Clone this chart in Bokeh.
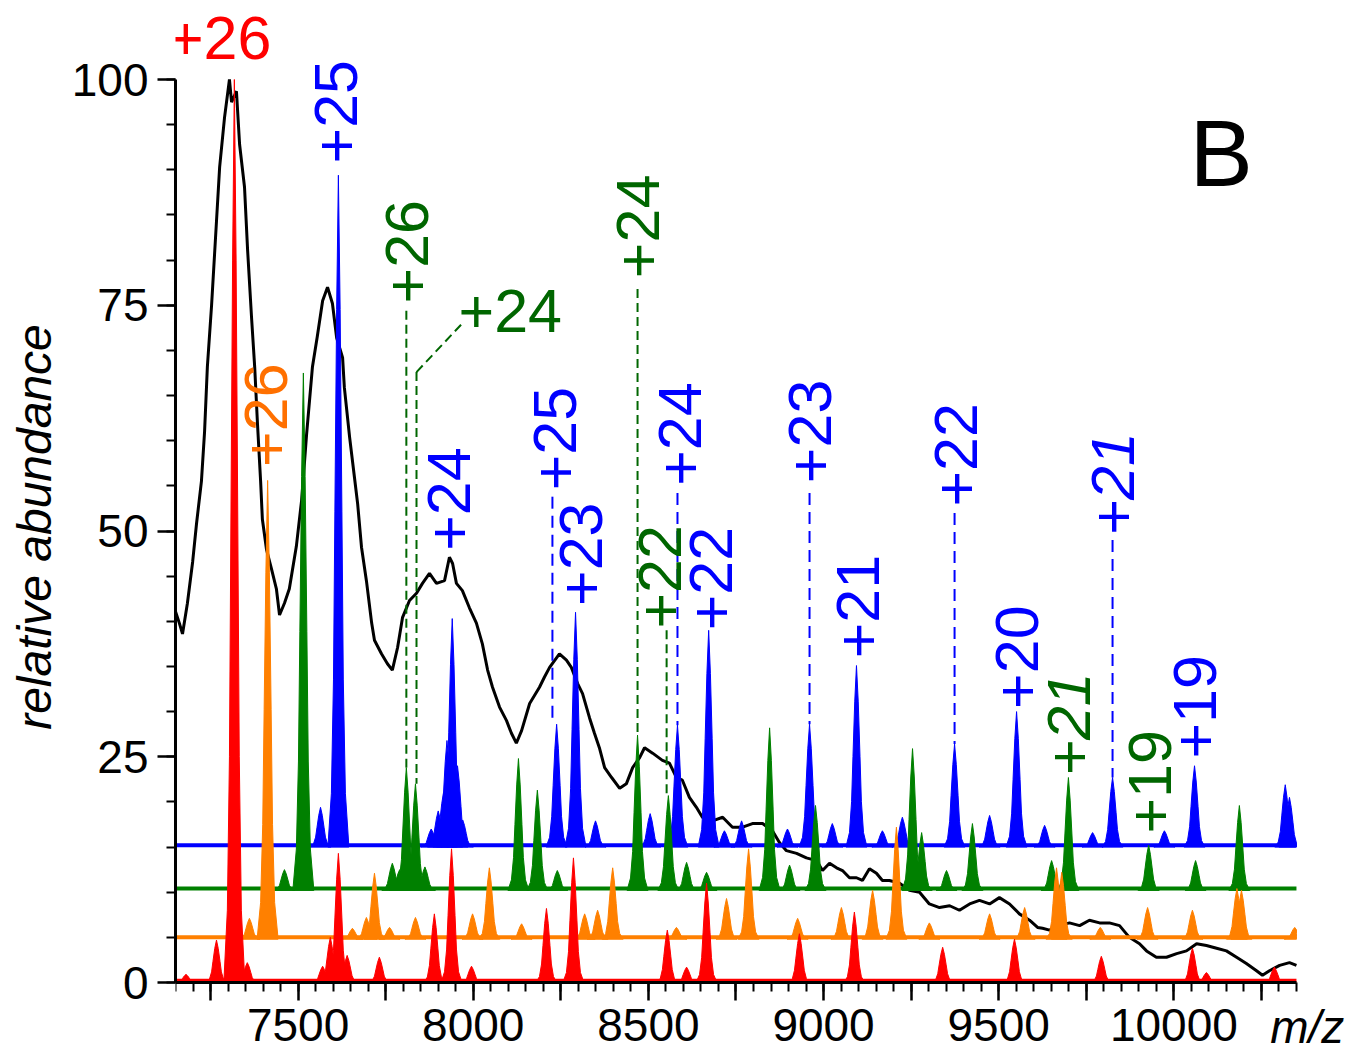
from math import pi
from bokeh.plotting import figure
from bokeh.models import Range1d, FixedTicker, Label
from bokeh.embed import file_html
from bokeh.resources import INLINE

FONT = "Liberation Sans"

# ---------------- data ----------------
# raw (black) spectrum: m/z and relative abundance
black_mz = [7150, 7161, 7170, 7184, 7199, 7210, 7224, 7233, 7241, 7253, 7267, 7276, 7290, 7304,
            7310, 7324, 7333, 7347, 7356, 7367, 7376, 7384, 7393, 7398, 7410, 7424, 7438, 7447,
            7461, 7475, 7495, 7510, 7524, 7541, 7555, 7570, 7584, 7598, 7610, 7627, 7632, 7647,
            7661, 7670, 7681, 7695, 7710, 7718, 7738, 7755, 7769, 7784, 7798, 7818, 7838, 7855,
            7875, 7895, 7918, 7932, 7941, 7952, 7969, 7989, 8009, 8026, 8041, 8055, 8075, 8095,
            8109, 8123, 8138, 8161, 8189, 8203, 8218, 8246, 8266, 8280, 8298, 8312, 8332, 8346,
            8360, 8375, 8395, 8418, 8437, 8455, 8475, 8489, 8512, 8540, 8560, 8580, 8597, 8617,
            8637, 8654, 8683, 8712, 8740, 8769, 8797, 8826, 8854, 8874, 8894, 8923, 8951, 8980,
            8997, 9017, 9037, 9054, 9074, 9094, 9111, 9131, 9151, 9168, 9188, 9217, 9245, 9274,
            9302, 9331, 9360, 9388, 9417, 9445, 9474, 9502, 9531, 9559, 9588, 9611, 9625, 9645,
            9674, 9702, 9731, 9759, 9788, 9816, 9845, 9873, 9902, 9922, 9950, 9979, 10008, 10036,
            10065, 10093, 10122, 10150, 10179, 10207, 10236, 10253, 10273, 10302, 10330, 10350]
black_abund = [41.1, 39.8, 38.6, 42.0, 46.6, 50.8, 55.5, 61.0, 68.2, 75.0, 84.3, 90.3, 95.8, 100.0,
               97.5, 98.7, 92.8, 88.1, 81.0, 73.7, 68.2, 61.9, 55.5, 51.3, 47.9, 45.8, 43.6, 40.7,
               42.0, 43.6, 48.3, 53.4, 60.6, 68.2, 71.6, 75.5, 77.0, 75.2, 71.4, 69.2, 65.9, 60.4,
               55.9, 53.0, 48.2, 44.5, 39.8, 37.9, 36.4, 35.3, 34.6, 37.1, 40.4, 42.3, 43.1, 44.2,
               45.3, 44.2, 44.5, 47.1, 46.4, 44.2, 43.4, 41.5, 39.8, 37.5, 34.6, 32.7, 30.5, 29.0,
               27.6, 26.5, 27.9, 30.9, 32.7, 33.8, 34.9, 36.4, 35.7, 34.9, 33.1, 32.0, 29.3, 27.6,
               26.0, 23.8, 22.7, 21.5, 22.0, 23.8, 24.9, 26.0, 25.4, 24.6, 24.3, 22.7, 22.4, 20.5,
               19.4, 18.3, 17.9, 18.3, 17.2, 17.2, 17.6, 17.6, 16.8, 15.5, 14.6, 14.3, 13.8, 13.5,
               12.4, 13.2, 12.7, 12.4, 11.6, 11.6, 11.3, 12.6, 12.1, 11.3, 11.3, 11.0, 10.2, 10.0,
               8.7, 8.3, 8.5, 8.0, 8.7, 9.1, 8.7, 9.4, 8.7, 7.6, 6.9, 6.1, 6.0, 5.8,
               6.3, 6.6, 6.3, 6.9, 6.6, 6.6, 6.3, 5.0, 4.3, 3.5, 2.8, 2.8, 3.2, 3.5,
               4.3, 4.1, 3.8, 3.5, 2.8, 2.1, 1.3, 0.8, 1.3, 1.9, 2.2, 1.9]

# offset traces: baseline level, peak positions (m/z) and peak-top levels
red_base = 0.0
red_mz = [7180, 7267, 7318, 7355, 7570, 7592, 7615, 7640, 7732, 7889, 7938, 7995, 8209, 8286,
          8554, 8609, 8666, 8931, 9088, 9340, 9545, 9793, 10053, 10093, 10287]
red_top = [0.9, 4.7, 100.0, 2.2, 1.8, 5.0, 14.3, 3.0, 2.8, 7.6, 14.8, 1.8, 8.2, 13.8,
           5.8, 1.7, 11.0, 5.4, 7.8, 3.9, 4.8, 2.9, 3.8, 1.1, 1.7]

orange_base = 4.8
orange_mz = [7361, 7413, 7655, 7695, 7718, 7761, 7835, 7998, 8046, 8138, 8318, 8355, 8398, 8580,
             8723, 8786, 8926, 9051, 9140, 9208, 9302, 9474, 9574, 9665, 9680, 9790, 9925, 10053,
             10180, 10193, 10345]
orange_top = [7.1, 55.6, 6.0, 7.2, 12.1, 6.1, 7.2, 7.6, 12.7, 6.5, 7.6, 8.0, 12.7, 6.1,
              9.3, 14.8, 7.1, 8.3, 10.2, 17.2, 6.6, 7.6, 8.3, 12.7, 12.2, 6.1, 8.3, 8.0,
              10.4, 10.2, 6.1]

green_base = 10.2
green_mz = [7461, 7515, 7769, 7790, 7809, 7835, 7862, 8129, 8183, 8240, 8469, 8557, 8609, 8666,
            8846, 8903, 8977, 9254, 9280, 9351, 9425, 9651, 9699, 9928, 10062, 10187]
green_top = [12.5, 67.5, 13.2, 12.5, 23.8, 22.0, 12.8, 24.8, 21.3, 12.4, 27.4, 20.7, 13.3, 12.2,
             28.2, 13.0, 19.6, 25.9, 16.6, 12.4, 17.6, 13.5, 22.7, 15.2, 13.5, 19.6]

blue_base = 15.0
blue_mz = [7564, 7615, 7880, 7900, 7915, 7925, 7940, 7955, 7970, 8238, 8292, 8349, 8505, 8583,
           8672, 8717, 8766, 8897, 8960, 9025, 9094, 9168, 9225, 9374, 9474, 9551, 9631, 9768,
           9825, 9973, 10059, 10318, 10330]
blue_top = [19.4, 89.4, 17.0, 19.0, 21.0, 26.8, 40.3, 24.0, 18.0, 28.6, 41.0, 17.9, 18.7, 28.5,
            39.0, 16.8, 17.9, 17.0, 28.6, 17.6, 35.1, 16.8, 18.3, 26.4, 18.5, 30.0, 17.4, 16.6,
            22.7, 16.8, 24.0, 21.9, 20.5]

# charge-state annotations (rotated ones start at lab_y, horizontal ones are centred on it)
lab_text = ["+26", "+25", "+26", "+26", "+24", "+24", "+25", "+23", "+24", "+22",
            "+24", "+22", "+23", "+21", "+22", "+20", "+21", "+21", "+19", "+19"]
lab_mz = [7276, 7607, 7408, 7812, 7958, 7932, 8232, 8309, 8469, 8532,
          8589, 8680, 8960, 9097, 9377, 9551, 9702, 9825, 9931, 10059]
lab_y = [104.6, 90.7, 57.1, 75.2, 74.4, 47.8, 54.5, 41.7, 78.0, 39.2,
         55.0, 39.0, 55.3, 35.9, 52.7, 30.3, 22.9, 49.5, 16.5, 24.8]
lab_series = ["red", "blue", "orange", "green", "green", "blue", "blue", "blue", "green", "green",
              "blue", "blue", "blue", "blue", "blue", "blue", "green", "blue", "green", "blue"]
lab_vertical = [False, True, True, True, False, True, True, True, True, True,
                True, True, True, True, True, True, True, True, True, True]
lab_italic = [False] * 16 + [True, True, False, False]

# leader lines from labels to peaks
lead_mz = [7809, 7838, 8226, 8469, 8552, 8583, 8960, 9374, 9825]
lead_top = [74.4, 67.6, 53.8, 76.8, 39.0, 54.2, 54.2, 52.0, 49.0]
lead_bottom = [23.8, 22.0, 28.6, 27.4, 20.7, 28.5, 28.6, 26.4, 22.7]
lead_series = ["green", "green", "blue", "green", "green", "blue", "blue", "blue", "blue"]
diag_mz = [7838, 7969]
diag_y = [67.6, 73.0]

x_major = [7250, 7500, 7750, 8000, 8250, 8500, 8750, 9000, 9250, 9500, 9750, 10000, 10250]
x_tick_labels = ["", "7500", "", "8000", "", "8500", "", "9000", "", "9500", "", "10000", ""]
x_minor = list(range(7150, 10351, 50))
y_major = [0, 25, 50, 75, 100]
y_minor = list(range(0, 101, 5))

# ---------------- styles / layout ----------------
FILL = {"red": "#FF0000", "orange": "#FF8000", "green": "#008000", "blue": "#0000FF"}
TEXTC = {"red": "#FF0000", "orange": "#FF7000", "green": "#006600", "blue": "#0000FF"}
DASH = {"green": "9 5", "blue": "12 7"}
HW = [30, 20, 14, 10, 5, 0]            # peak profile half widths (m/z)
FR = [0, 0.08, 0.25, 0.5, 0.8, 1.0]    # fraction of peak height at those widths
X_END = 10350

W, H = 1352, 1053
LEFT = 175
PX_PER_MZ = 0.3503
PX_PER_UNIT = 9.03
Y100_PX = 79
x_hi = 7150 + (W - LEFT) / PX_PER_MZ
y_hi = 100 + Y100_PX / PX_PER_UNIT
y_lo = y_hi - H / PX_PER_UNIT


def peak_polys(mzs, tops, base):
    xs, ys = [], []
    for c, t in zip(mzs, tops):
        d = t - base
        px = [c - w for w in HW] + [c + w for w in reversed(HW[:-1])]
        xs.append([min(v, X_END) for v in px])
        ys.append([base + f * d for f in FR] + [base + f * d for f in reversed(FR[:-1])])
    return xs, ys


p = figure(width=W, height=H, output_backend="svg", toolbar_location=None,
           x_range=Range1d(7150, x_hi), y_range=Range1d(y_lo, y_hi),
           min_border_left=LEFT, min_border_right=0, min_border_top=0, min_border_bottom=0)
p.outline_line_color = None
p.grid.visible = False
p.background_fill_color = "white"
p.border_fill_color = "white"

# raw spectrum underneath
p.line(black_mz, black_abund, line_color="black", line_width=3)

# offset traces (blue at the back, red in front)
for name, mzs, tops, base in [("blue", blue_mz, blue_top, blue_base),
                              ("green", green_mz, green_top, green_base),
                              ("orange", orange_mz, orange_top, orange_base),
                              ("red", red_mz, red_top, red_base)]:
    p.line([7150, X_END], [base + 0.2, base + 0.2], line_color=FILL[name], line_width=4)
    xs, ys = peak_polys(mzs, tops, base)
    p.patches(xs, ys, fill_color=FILL[name], line_color=FILL[name], line_width=1)

# leader lines
for m, y0, y1, s in zip(lead_mz, lead_top, lead_bottom, lead_series):
    p.line([m, m], [y0, y1], line_color=TEXTC[s], line_width=2, line_dash=DASH[s])
p.line(diag_mz, diag_y, line_color=TEXTC["green"], line_width=2, line_dash=DASH["green"])

# labels
for t, m, y, s, vert, ital in zip(lab_text, lab_mz, lab_y, lab_series, lab_vertical, lab_italic):
    if vert:
        lab = Label(x=m, y=y, text=t, angle=pi / 2, text_align="left", text_baseline="middle")
    else:
        align = "center" if s == "red" else "left"
        lab = Label(x=m, y=y, text=t, text_align=align, text_baseline="middle")
    lab.text_font = FONT
    lab.text_font_size = "61px"
    lab.text_color = TEXTC[s]
    lab.text_font_style = "italic" if ital else "normal"
    p.add_layout(lab)

p.add_layout(Label(x=10045, y=91.9, text="B", text_font=FONT, text_font_size="95px",
                   text_color="black", text_align="left", text_baseline="middle"))
p.add_layout(Label(x=10275, y=-4.9, text="m/z", text_font=FONT, text_font_size="46px",
                   text_font_style="italic", text_color="black", text_align="left",
                   text_baseline="middle"))

# axes
for ax in (p.xaxis[0], p.yaxis[0]):
    ax.axis_line_width = 3
    ax.axis_line_color = "black"
    ax.major_tick_line_width = 2.5
    ax.minor_tick_line_width = 2
    ax.major_tick_line_color = "black"
    ax.minor_tick_line_color = "black"
    ax.major_tick_out = 18
    ax.major_tick_in = 0
    ax.minor_tick_out = 9
    ax.minor_tick_in = 0
    ax.major_label_text_font = FONT
    ax.major_label_text_font_size = "46px"
    ax.major_label_text_color = "black"

xax = p.xaxis[0]
xax.fixed_location = 0
xax.bounds = (7150, X_END)
xax.ticker = FixedTicker(ticks=x_major, minor_ticks=x_minor)
xax.major_label_overrides = {t: lbl for t, lbl in zip(x_major, x_tick_labels)}
xax.major_label_standoff = 8

yax = p.yaxis[0]
yax.bounds = (0, 100)
yax.ticker = FixedTicker(ticks=y_major, minor_ticks=y_minor)
yax.major_label_standoff = 9
yax.axis_label = "relative abundance"
yax.axis_label_text_font = FONT
yax.axis_label_text_font_size = "48px"
yax.axis_label_text_font_style = "italic"
yax.axis_label_text_color = "black"
yax.axis_label_standoff = 8

open("out.html", "w").write(file_html(p, INLINE))
